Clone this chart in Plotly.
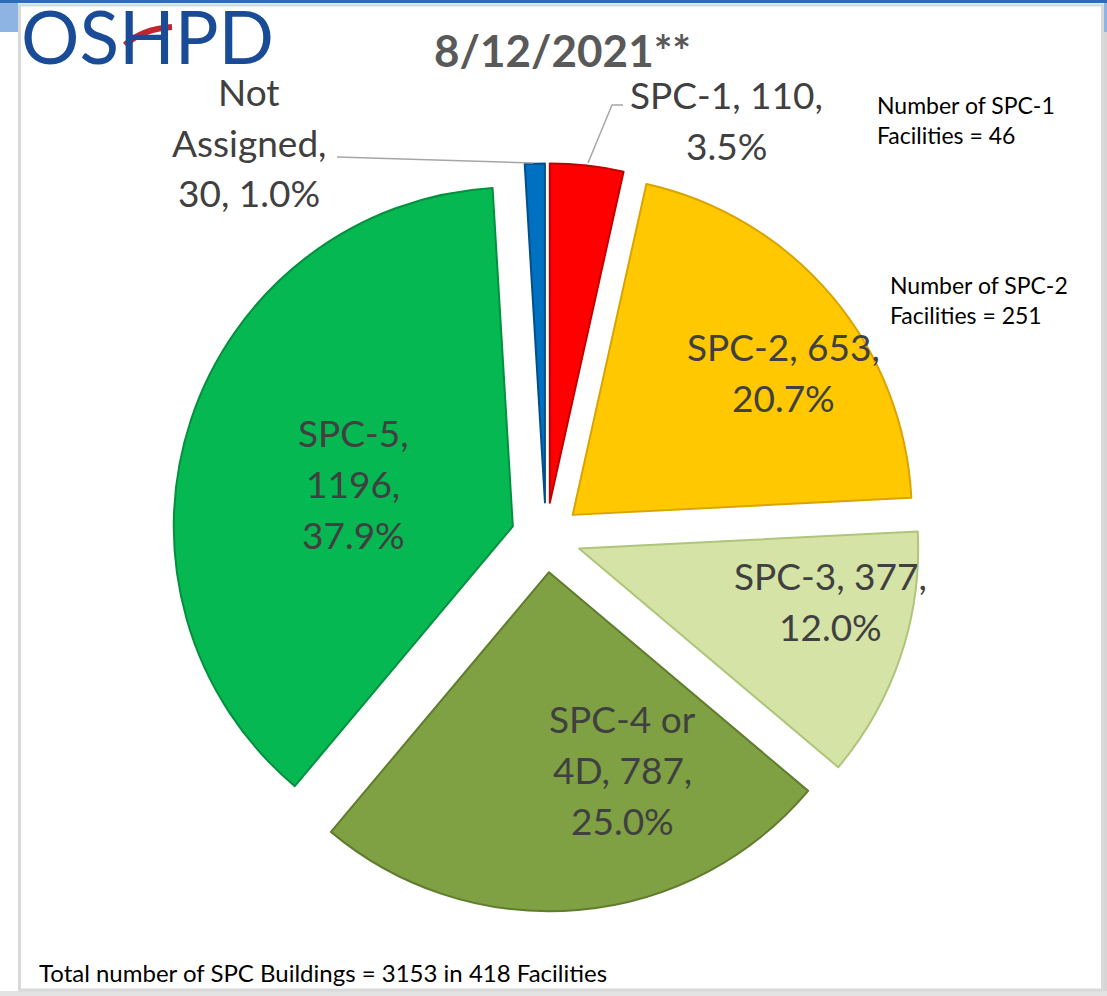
import plotly.graph_objects as go

W, H = 1107, 996

labels = ['SPC-1', 'SPC-2', 'SPC-3', 'SPC-4 or 4D', 'SPC-5', 'Not Assigned']
buildings = [110, 653, 377, 787, 1196, 30]
slice_colors = ['#FF0000', '#FFC800', '#D5E4A6', '#7FA043', '#05B852', '#0070C0']
edge_colors = ['#C00000', '#D9A400', '#AFC57A', '#5F7D2C', '#03913F', '#00508C']
facility_notes = ['Number of SPC-1|Facilities = 46', 'Number of SPC-2|Facilities = 251']
title = '8/12/2021**'
footer = 'Total number of SPC Buildings = 3153 in 418 Facilities'

# words per line for each slice label, and where the label block sits (px)
words_per_line = [[2, 1], [2, 1], [2, 1], [2, 2, 1], [1, 1, 1], [1, 1, 2]]
label_pos = [(726, 120), (783, 372), (830, 601), (622, 769), (353, 483), (249, 142)]
LINE = 51


def px(x):
    return x / W


def py(y):
    return 1 - y / H


total = sum(buildings)
label_text = [f'{l}, {v}, {round(v / total * 100, 1):.1f}%' for l, v in zip(labels, buildings)]

fig = go.Figure()
fig.add_trace(go.Pie(
    labels=labels,
    values=buildings,
    sort=False,
    direction='clockwise',
    rotation=0,
    pull=0.103,
    marker=dict(colors=slice_colors, line=dict(color=edge_colors, width=2)),
    textinfo='none',
    hoverinfo='label+value+percent',
    domain=dict(x=[px(172), px(920)], y=[py(911.4), py(163.4)]),
    showlegend=False,
))

annotations = []
for text, split, (cx, cy) in zip(label_text, words_per_line, label_pos):
    words = text.split(' ')
    lines, i = [], 0
    for n in split:
        lines.append(' '.join(words[i:i + n]))
        i += n
    mid = (len(lines) - 1) / 2
    for k, line in enumerate(lines):
        annotations.append(dict(
            x=px(cx), y=py(cy + (k - mid) * LINE), xref='paper', yref='paper',
            text=line, showarrow=False, xanchor='center', yanchor='middle',
            font=dict(family='Lato', size=37, color='#404040')))

# facility notes at the right
for note, (x0, y0) in zip(facility_notes, [(875, 105), (888, 285)]):
    for k, line in enumerate(note.split('|')):
        annotations.append(dict(
            x=px(x0), y=py(y0 + k * 30), xref='paper', yref='paper',
            text=line, showarrow=False, xanchor='left', yanchor='middle',
            font=dict(family='Lato', size=23, color='#000000')))

annotations += [
    dict(x=px(562), y=py(50), xref='paper', yref='paper', text=f'<b>{title}</b>',
         showarrow=False, xanchor='center', yanchor='middle',
         font=dict(family='Lato', size=44, color='#595959')),
    dict(x=px(37), y=py(972), xref='paper', yref='paper', text=footer,
         showarrow=False, xanchor='left', yanchor='middle',
         font=dict(family='Lato', size=24, color='#000000')),
    dict(x=px(19), y=py(36), xref='paper', yref='paper', text='OSHPD',
         showarrow=False, xanchor='left', yanchor='middle',
         font=dict(family='Lato', size=73, color='#1A4B97')),
]

shapes = [
    # window frame
    dict(type='rect', x0=0, x1=1, y0=py(3), y1=1, xref='paper', yref='paper',
         fillcolor='#2E6DB4', line=dict(width=0), layer='below'),
    dict(type='rect', x0=0, x1=px(18), y0=py(32), y1=py(3), xref='paper', yref='paper',
         fillcolor='#8EB4E3', line=dict(width=0), layer='below'),
    dict(type='rect', x0=px(1104), x1=1, y0=py(32), y1=py(3), xref='paper', yref='paper',
         fillcolor='#8EB4E3', line=dict(width=0), layer='below'),
    dict(type='rect', x0=px(1104), x1=1, y0=0, y1=py(32), xref='paper', yref='paper',
         fillcolor='#D6D6D6', line=dict(width=0), layer='below'),
    dict(type='rect', x0=0, x1=1, y0=0, y1=py(991), xref='paper', yref='paper',
         fillcolor='#E3E3E3', line=dict(width=0), layer='below'),
    dict(type='rect', x0=px(19.5), x1=px(1102.5), y0=py(990), y1=py(5), xref='paper', yref='paper',
         line=dict(color='#D9D9D9', width=3), layer='below'),
    # leader lines
    dict(type='line', x0=px(337), y0=py(157), x1=px(533), y1=py(163), xref='paper', yref='paper',
         line=dict(color='#A6A6A6', width=1.5)),
    dict(type='path', xref='paper', yref='paper',
         path=f'M {px(623)},{py(105)} L {px(612)},{py(105)} L {px(588)},{py(163)}',
         line=dict(color='#A6A6A6', width=1.5)),
    # logo swoosh
    dict(type='path', xref='paper', yref='paper',
         path=f'M {px(125)},{py(45)} Q {px(142)},{py(29)} {px(172)},{py(27)}',
         line=dict(color='#C0272D', width=6)),
]

fig.update_layout(
    width=W, height=H,
    margin=dict(l=0, r=0, t=0, b=0),
    paper_bgcolor='white',
    plot_bgcolor='white',
    annotations=annotations,
    shapes=shapes,
)

# the page's default 8px body margin would push the figure off its spot
fig.write_html('out.html', config={'displayModeBar': False},
               post_script="document.body.style.margin = '0';")
